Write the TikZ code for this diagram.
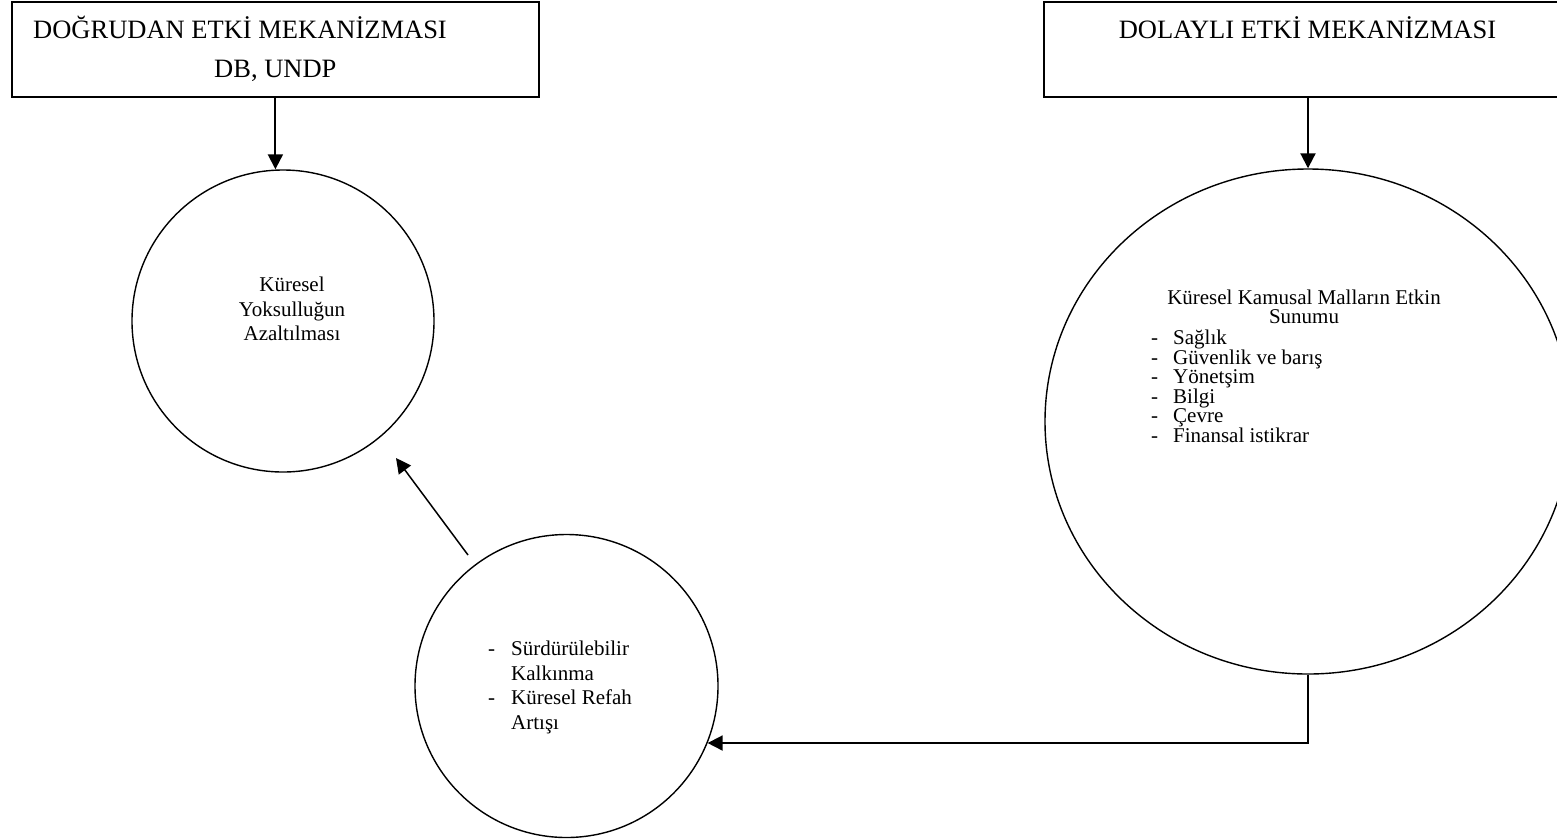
\documentclass[tikz,border=0pt]{standalone}
\usepackage{fontspec}
\setmainfont{Liberation Serif}
\usetikzlibrary{arrows.meta,shapes.geometric}
\tikzset{
  mechbox/.style={draw, line width=2pt, rectangle, inner sep=0pt},
  bubble/.style={draw, line width=1.4pt, circle, inner sep=0pt},
  oval/.style={draw, line width=1.4pt, ellipse, inner sep=0pt},
  bigtext/.style={font=\fontsize{26.5}{39}\selectfont, inner sep=0pt},
  smalltext/.style={font=\fontsize{21}{24.7}\selectfont, inner sep=0pt},
  flow/.style={line width=2pt, -{Triangle[length=15pt,width=15pt]}},
}
\begin{document}
\begin{tikzpicture}[x=1pt,y=-1pt]
\clip (0,0) rectangle (1557,839);
\fill[white] (0,0) rectangle (1557,839);

% boxes
\node[mechbox, minimum width=527pt, minimum height=95pt] (box1) at (275.4,49.5) {};
\node[mechbox, minimum width=528pt, minimum height=95pt] (box2) at (1308,49.5) {};
\node[bigtext, anchor=base west] (t1a) at (33,38) {DOĞRUDAN ETKİ MEKANİZMASI};
\node[bigtext, anchor=base west] (t1b) at (214,77) {DB, UNDP};
\node[bigtext, anchor=base] (t2) at (1307.5,38) {DOLAYLI ETKİ MEKANİZMASI};

% circles
\node[bubble, minimum size=302pt] (c1) at (283,321) {};
\node[smalltext, align=center, anchor=north] (c1t) at (292,276.8)
  {Küresel\\Yoksulluğun\\Azaltılması};

\node[oval, minimum width=526pt, minimum height=505pt] (e) at (1308,421.5) {};
\node[font=\fontsize{21}{18.5}\selectfont, inner sep=0pt, align=center, anchor=north] (et) at (1304,289.8)
  {Küresel Kamusal Malların Etkin\\Sunumu};
\node[font=\fontsize{21}{19}\selectfont, inner sep=0pt, align=left, anchor=north west] (el) at (1151,329.3)
  {\lineskiplimit=-20pt
   \makebox[22pt][l]{-}Sağlık\\
   \makebox[22pt][l]{-}Güvenlik ve barış\\
   \makebox[22pt][l]{-}Yönetşim\\
   \makebox[22pt][l]{-}Bilgi\\
   \makebox[22pt][l]{-}Çevre\\
   \makebox[22pt][l]{-}Finansal istikrar};

\node[bubble, minimum size=303pt] (c3) at (566.5,686) {};
\node[smalltext, align=left, anchor=north west] (c3t) at (488,640.8)
  {\makebox[23pt][l]{-}Sürdürülebilir\\
   \hspace*{23pt}Kalkınma\\
   \makebox[23pt][l]{-}Küresel Refah\\
   \hspace*{23pt}Artışı};

% connectors
\draw[flow] (box1.south) -- (box1.south |- c1.north);
\draw[flow] (box2.south) -- (e.north);
\draw[flow, line width=1.8pt] (e.south) |- (c3.-22.9);
\coordinate (d1) at (468,555);
\coordinate (d2) at (396,458);
\draw[flow, line width=1.5pt] (d1) -- (d2);
\end{tikzpicture}
\end{document}
